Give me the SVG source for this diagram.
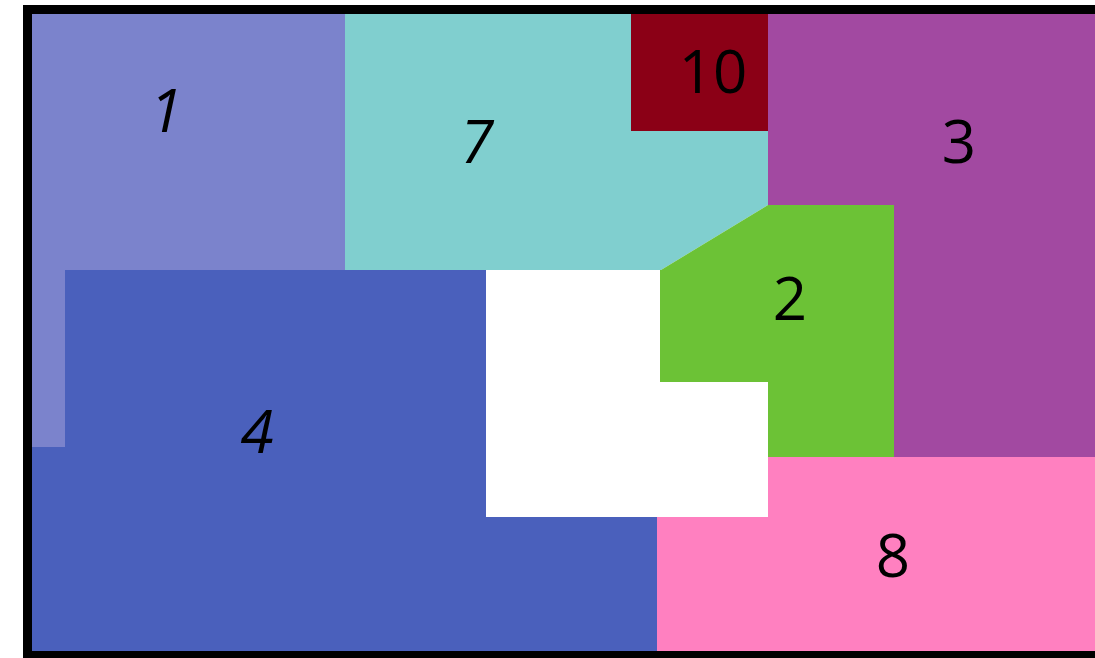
<svg xmlns="http://www.w3.org/2000/svg" width="1095" height="658" viewBox="0 0 1095 658">
<style>
.lbl{font-family:"Open Sans","Liberation Sans",sans-serif;font-size:60px;fill:#000;text-anchor:middle}
.it{font-style:italic}
</style>
<rect x="0" y="0" width="1095" height="658" fill="#fff"/>
<rect x="23" y="5" width="1080" height="653" fill="#000"/>
<rect x="32" y="14" width="1063" height="637" fill="#fff"/>
<g id="region-1"><path d="M32,14H345V270H65V447H32Z" fill="#7B83CC"/><text class="lbl it" x="166" y="132">1</text></g>
<g id="region-7"><path d="M345,14H631V131H768V205L661,270H345Z" fill="#80CFCF"/><text class="lbl it" x="477" y="163">7</text></g>
<g id="region-10"><rect x="631" y="14" width="137" height="117" fill="#8B0016"/><text class="lbl" x="713" y="93">10</text></g>
<g id="region-3"><path d="M768,14H1095V457H894V205H768Z" fill="#A249A1"/><text class="lbl" x="959" y="163">3</text></g>
<g id="region-2"><path d="M768,205H894V457H768V382H660V270L661,270Z" fill="#6CC236"/><text class="lbl" x="790" y="320">2</text></g>
<g id="region-4"><path d="M65,270H486V517H657V651H32V447H65Z" fill="#4A60BC"/><text class="lbl it" x="257" y="453">4</text></g>
<g id="region-8"><path d="M768,457H1095V651H657V517H768Z" fill="#FF80C0"/><text class="lbl" x="893" y="577">8</text></g>
<g id="connectors"></g>
</svg>
